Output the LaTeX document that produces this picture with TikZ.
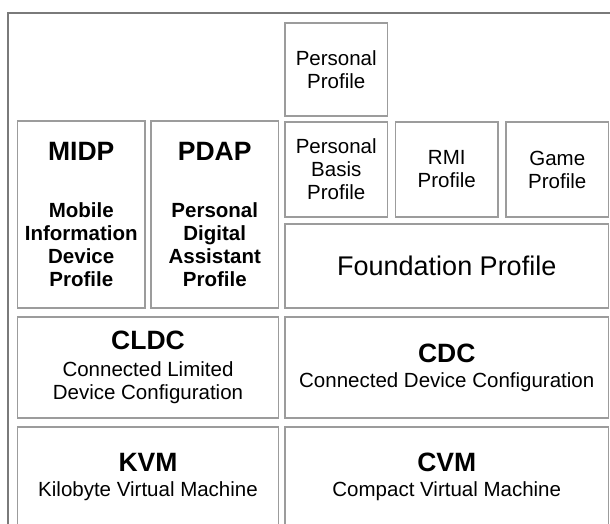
\documentclass[tikz,border=0pt]{standalone}
\usepackage{fontspec}
\setmainfont{Liberation Sans}
\usetikzlibrary{positioning}
\definecolor{boxline}{HTML}{9C9C9C}
\definecolor{frameline}{HTML}{7A7A7A}
\newcommand{\ttl}[1]{{\fontsize{26.5}{30}\selectfont\bfseries #1}}

\begin{document}
\begin{tikzpicture}[
  x=1pt,y=1pt,
  font=\fontsize{20.5}{23}\selectfont,
  blk/.style={draw=boxline,line width=1.3pt,inner sep=0pt,outer sep=0pt,align=center},
  half/.style={blk,minimum width=261pt,minimum height=101pt},
  wide/.style={blk,minimum width=323.5pt,minimum height=101pt},
  small/.style={blk,minimum width=102.5pt,minimum height=95pt},
  tall/.style={blk,minimum width=127.5pt,minimum height=187pt,font=\fontsize{20.5}{23}\selectfont\bfseries},
]
  \useasboundingbox (0,0) rectangle (610,524);
  \draw[frameline,line width=1.2pt] (8,511) rectangle (640,-40);

  % virtual machines
  \node[half,anchor=north west,minimum height=100pt] (kvm) at (17.5,97)
    {\ttl{KVM}\\[2pt]Kilobyte Virtual Machine};
  \node[wide,right=6.5pt of kvm,minimum height=100pt] (cvm)
    {\ttl{CVM}\\[2pt]Compact Virtual Machine};

  % configurations
  \node[half,above=9pt of kvm] (cldc)
    {\ttl{CLDC}\\[4pt]Connected Limited\\Device Configuration};
  \node[wide,above=9pt of cvm] (cdc)
    {\ttl{CDC}\\[2pt]Connected Device Configuration};

  % profiles
  \node[tall,above right=9pt and 0pt of cldc.north west] (midp)
    {\ttl{MIDP}\\[34pt]Mobile\\Information\\Device\\Profile};
  \node[tall,right=6pt of midp] (pdap)
    {\ttl{PDAP}\\[34pt]Personal\\Digital\\Assistant\\Profile};
  \node[wide,above=9pt of cdc,minimum height=84pt,font=\fontsize{27}{30}\selectfont] (fp)
    {Foundation Profile};
  \node[small,above right=7pt and 0pt of fp.north west] (pbp)
    {Personal\\Basis\\Profile};
  \node[small,right=8pt of pbp] (rmi) {RMI\\Profile};
  \node[small,right=8pt of rmi] (game) {Game\\Profile};
  \node[small,above=6pt of pbp,minimum height=93pt] (pp) {Personal\\Profile};
\end{tikzpicture}
\end{document}
